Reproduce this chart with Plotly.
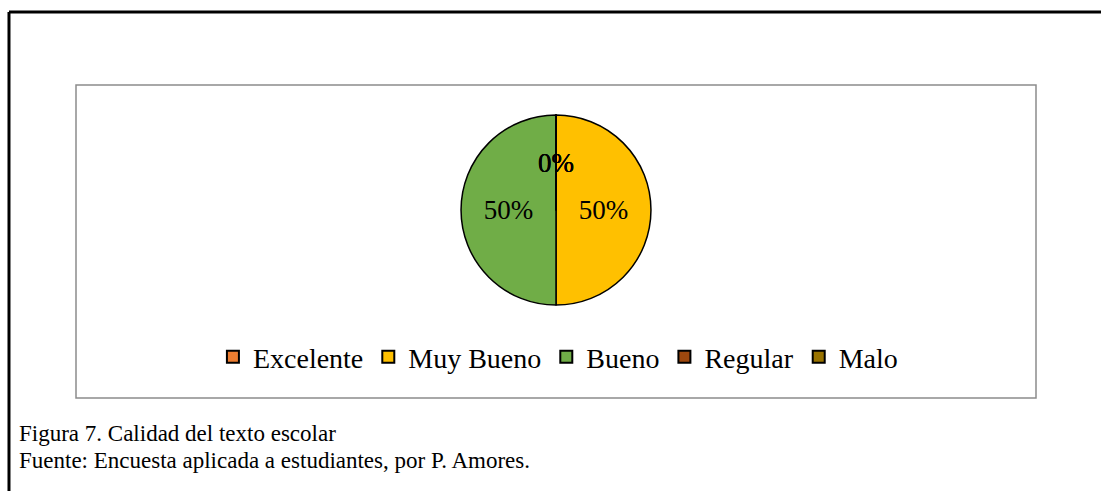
import plotly.graph_objects as go

categorias = ["Excelente", "Muy Bueno", "Bueno", "Regular", "Malo"]
porcentajes = [0, 50, 50, 0, 0]
colores = ["#ED7D31", "#FFC000", "#70AD47", "#9E480E", "#997300"]

titulo = "Figura 7. Calidad del texto escolar"
fuente = "Fuente: Encuesta aplicada a estudiantes, por P. Amores."

SERIF = "Liberation Serif, Times New Roman, serif"
PIE_Y = [0.297, 0.904]

fig = go.Figure()
fig.add_trace(
    go.Pie(
        labels=categorias,
        values=porcentajes,
        sort=False,
        direction="clockwise",
        rotation=0,
        marker=dict(colors=colores, line=dict(color="black", width=1.5)),
        texttemplate="%{percent:.0%}",
        textposition="inside",
        insidetextorientation="horizontal",
        textfont=dict(family=SERIF, size=27, color="black"),
        domain=dict(x=[0, 1], y=PIE_Y),
        hoverinfo="label+percent",
    )
)

# plotly no dibuja el texto de las porciones en 0, se agrega como anotacion
total = sum(porcentajes)
centro_y = (PIE_Y[0] + PIE_Y[1]) / 2
radio_y = (PIE_Y[1] - PIE_Y[0]) / 2
for cat, v in zip(categorias, porcentajes):
    if v == 0:
        fig.add_annotation(
            text=f"{round(100 * v / total)}%",
            xref="paper", yref="paper", x=0.5, y=centro_y + 0.50 * radio_y,
            xanchor="center", yanchor="middle",
            showarrow=False,
            font=dict(family=SERIF, size=27, color="black"),
        )

# marco interior del grafico (gris) y marco exterior (negro)
fig.add_shape(type="rect", xref="paper", yref="paper", x0=0, y0=0, x1=1, y1=1,
              line=dict(color="#8c8c8c", width=1.5))
fig.add_shape(type="line", xref="paper", yref="paper",
              x0=-0.0698, y0=-0.297, x1=-0.0698, y1=1.233,
              line=dict(color="black", width=3))
fig.add_shape(type="line", xref="paper", yref="paper",
              x0=-0.0698, y0=1.233, x1=1.0677, y1=1.233,
              line=dict(color="black", width=3))

fig.add_annotation(text=titulo, xref="paper", yref="paper", x=-0.0615, y=-0.115,
                   xanchor="left", yanchor="middle", showarrow=False,
                   font=dict(family=SERIF, size=23, color="black"))
fig.add_annotation(text=fuente, xref="paper", yref="paper", x=-0.0615, y=-0.201,
                   xanchor="left", yanchor="middle", showarrow=False,
                   font=dict(family=SERIF, size=23, color="black"))

fig.update_layout(
    width=1101,
    height=491,
    margin=dict(l=76, r=65, t=85, b=93),
    paper_bgcolor="white",
    plot_bgcolor="white",
    showlegend=True,
    legend=dict(
        orientation="h",
        x=0.502,
        xanchor="center",
        y=0.131,
        yanchor="middle",
        font=dict(family=SERIF, size=28, color="black"),
        itemsizing="constant",
        traceorder="normal",
    ),
)

# sin margen del body para que la figura ocupe toda la ventana
fig.write_html(
    "out.html",
    config={"displayModeBar": False},
    post_script="document.body.style.margin='0';",
)
